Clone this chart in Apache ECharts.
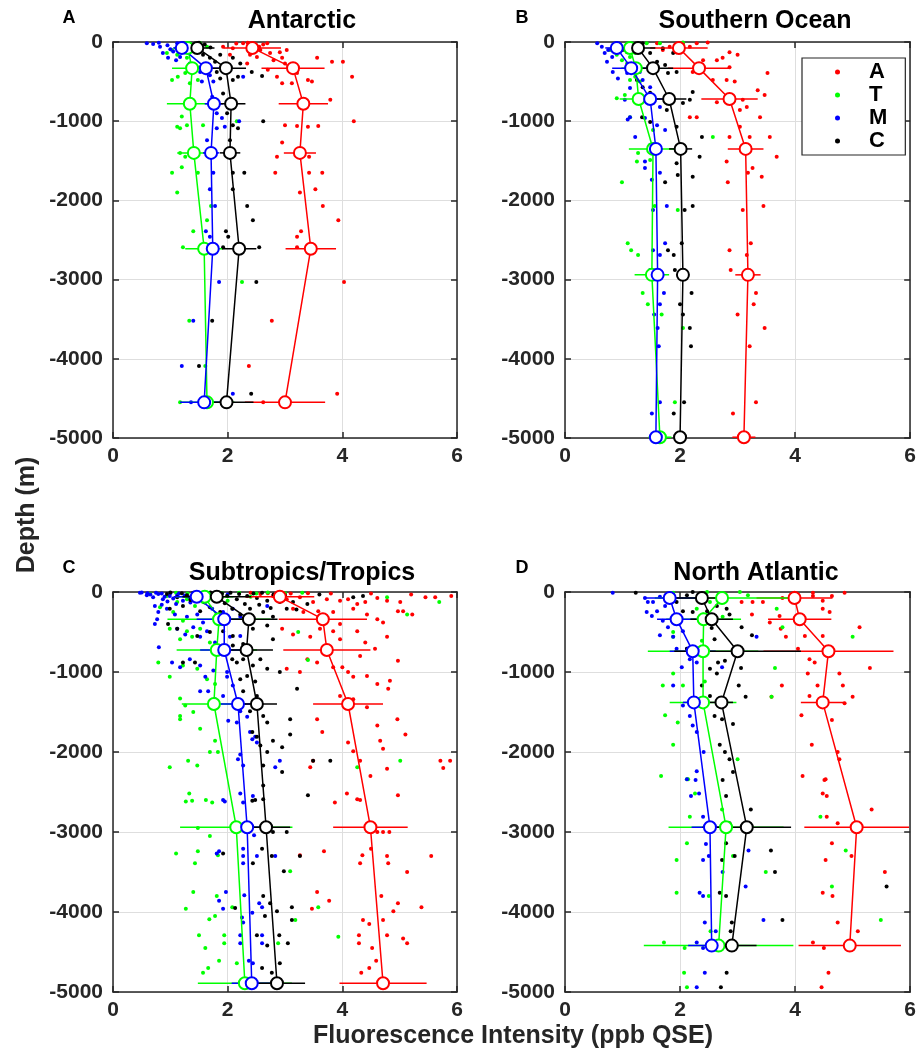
<!DOCTYPE html>
<html><head><meta charset="utf-8">
<script src="https://cdn.jsdelivr.net/npm/echarts@6/dist/echarts.min.js"></script>
<style>html,body{margin:0;padding:0;background:#fff}#c{width:919px;height:1051px}</style>
</head><body><div id="c"></div>
<script>
// ---------- categories / ticks ----------
const cats = ['A', 'T', 'M', 'C'];
const titles = ['Antarctic', 'Southern Ocean', 'Subtropics/Tropics', 'North Atlantic'];
const letters = ['A', 'B', 'C', 'D'];
const xTicks = [0, 2, 4, 6];
const yTicks = [0, -1000, -2000, -3000, -4000, -5000];

// ---------- Panel A: Antarctic ----------
const ant_depth = [-75, -330, -780, -1400, -2610, -4550];
const ant_A_mean = [2.43, 3.14, 3.32, 3.26, 3.45, 3.0];
const ant_A_err = [0.5, 0.55, 0.43, 0.28, 0.44, 0.7];
const ant_T_mean = [1.3, 1.38, 1.34, 1.41, 1.59, 1.64];
const ant_T_err = [0.2, 0.35, 0.4, 0.29, 0.33, 0.48];
const ant_M_mean = [1.2, 1.62, 1.76, 1.71, 1.74, 1.59];
const ant_M_err = [0.15, 0.3, 0.16, 0.14, 0.08, 0.42];
const ant_C_mean = [1.47, 1.97, 2.06, 2.04, 2.2, 1.98];
const ant_C_err = [0.3, 0.35, 0.25, 0.18, 0.3, 0.47];
const ant_A_pts = [[2.09,-80],[2.27,-15],[2.44,-40],[2.57,-100],[2.69,-15],[2.74,-140],[2.8,-230],[2.95,-200],[3.0,-270],[3.03,-100],[3.21,-390],[3.56,-200],[3.82,-250],[4.01,-250],[4.17,-440],[2.86,-440],[3.4,-480],[3.47,-500],[3.12,-520],[2.95,-520],[3.0,-1050],[3.21,-1060],[3.4,-1070],[3.58,-1060],[4.2,-1000],[2.95,-1270],[2.86,-1450],[3.42,-1450],[2.83,-1650],[3.42,-1650],[3.65,-1650],[3.26,-1900],[3.53,-1860],[3.66,-2070],[3.93,-2250],[3.28,-2390],[3.21,-2460],[3.21,-2590],[4.03,-3030],[2.77,-3520],[2.37,-4090],[3.91,-4440],[2.62,-4550],[1.92,-60],[2.04,-160],[2.39,-160],[2.51,-190],[2.34,-270],[2.91,-130],[2.7,-350],[3.79,-730],[2.15,-20],[2.35,-10],[2.55,-60],[2.62,-30]];
const ant_T_pts = [[0.94,-140],[1.03,-100],[1.12,-160],[1.2,-60],[1.29,-200],[1.52,-15],[1.64,-60],[1.03,-480],[1.13,-440],[1.26,-390],[1.34,-520],[1.48,-480],[1.2,-940],[1.17,-1090],[1.12,-1070],[1.29,-1050],[1.57,-1050],[1.17,-1400],[1.26,-1450],[1.2,-1580],[1.03,-1650],[1.48,-1650],[1.12,-1900],[2.16,-1000],[1.64,-2250],[1.4,-2390],[1.22,-2590],[2.25,-3030],[1.33,-3520],[1.17,-4550],[1.61,-4090],[1.71,-2070],[1.35,-30],[1.1,-80],[1.45,-110]];
const ant_M_pts = [[0.59,-15],[0.7,-25],[0.82,-60],[0.87,-140],[0.96,-200],[1.05,-120],[1.17,-190],[1.22,-80],[1.12,-15],[1.34,-270],[1.52,-380],[1.69,-420],[1.75,-500],[1.55,-500],[1.4,-380],[2.27,-440],[1.73,-690],[1.81,-900],[1.9,-960],[1.81,-1090],[1.95,-1070],[2.2,-1000],[1.64,-1240],[1.73,-1450],[1.75,-1650],[1.69,-1860],[1.78,-2070],[1.62,-2390],[1.69,-2460],[1.85,-3030],[1.4,-3520],[1.2,-4090],[2.09,-4440],[1.36,-4550],[0.8,-10],[0.95,-40],[1.0,-90],[1.3,-50],[1.1,-230]];
const ant_C_pts = [[1.22,-15],[1.31,-60],[1.4,-40],[1.52,-100],[1.57,-160],[1.69,-200],[1.78,-250],[1.87,-160],[2.09,-200],[2.22,-270],[2.42,-380],[2.6,-430],[1.81,-380],[1.87,-460],[2.09,-480],[2.18,-440],[1.92,-650],[1.99,-900],[2.09,-1050],[2.18,-1090],[2.62,-1000],[2.04,-1240],[2.09,-1450],[2.09,-1650],[2.29,-1650],[2.09,-1860],[2.34,-2070],[2.44,-2250],[1.97,-2390],[2.01,-2460],[1.92,-2590],[2.55,-2590],[2.5,-3030],[1.73,-3520],[1.5,-4090],[2.41,-4440],[1.5,-10],[1.6,-30],[1.7,-70],[1.35,-90]];

// ---------- Panel B: Southern Ocean ----------
const so_depth = [-75, -330, -720, -1350, -2940, -4990];
const so_A_mean = [1.98, 2.33, 2.86, 3.14, 3.18, 3.11];
const so_A_err = [0.5, 0.54, 0.49, 0.31, 0.22, 0.2];
const so_T_mean = [1.13, 1.23, 1.28, 1.53, 1.51, 1.65];
const so_T_err = [0.2, 0.25, 0.33, 0.42, 0.3, 0.2];
const so_M_mean = [0.9, 1.15, 1.48, 1.58, 1.61, 1.58];
const so_M_err = [0.2, 0.33, 0.3, 0.1, 0.1, 0.08];
const so_C_mean = [1.27, 1.53, 1.81, 2.01, 2.05, 2.0];
const so_C_err = [0.3, 0.35, 0.3, 0.2, 0.1, 0.1];
const so_A_pts = [[1.6,-15],[1.7,-100],[1.82,-60],[1.94,-130],[2.05,-15],[2.17,-60],[2.29,-15],[2.48,-5],[2.4,-230],[2.64,-230],[2.74,-200],[2.86,-130],[3.0,-160],[2.86,-320],[2.22,-380],[2.57,-480],[2.81,-480],[2.95,-500],[3.52,-390],[3.35,-610],[3.47,-670],[2.64,-760],[3.09,-730],[3.04,-860],[3.16,-820],[2.17,-950],[2.29,-950],[3.39,-950],[3.04,-1070],[2.86,-1200],[3.21,-1200],[3.56,-1200],[3.07,-1330],[3.68,-1450],[2.81,-1510],[3.26,-1590],[3.42,-1700],[2.83,-1770],[3.18,-1650],[3.45,-2070],[3.09,-2120],[3.23,-2540],[2.86,-2630],[3.16,-2690],[2.88,-2880],[3.32,-3170],[3.28,-3310],[3.0,-3440],[3.47,-3610],[3.21,-3840],[3.32,-4550],[2.92,-4690]];
const so_T_pts = [[0.78,-100],[0.9,-160],[0.99,-230],[1.08,-270],[1.13,-190],[1.22,-140],[1.3,-60],[1.42,-15],[1.65,-15],[2.05,-5],[1.13,-480],[1.22,-440],[1.3,-500],[0.9,-710],[1.04,-670],[1.13,-950],[1.53,-1110],[2.57,-1200],[1.27,-1400],[1.25,-1510],[0.99,-1770],[1.48,-1490],[1.56,-2070],[1.96,-2120],[1.09,-2540],[1.15,-2630],[1.27,-2690],[1.35,-3170],[1.44,-3310],[1.68,-3440],[2.05,-3610],[1.91,-4550]];
const so_M_pts = [[0.56,-15],[0.64,-60],[0.69,-140],[0.75,-100],[0.82,-190],[0.73,-250],[0.87,-60],[0.95,-40],[0.83,-380],[0.92,-460],[1.08,-390],[1.3,-380],[1.35,-480],[1.48,-570],[1.13,-580],[1.04,-730],[1.22,-710],[1.53,-770],[1.65,-820],[1.13,-950],[1.09,-980],[1.39,-960],[1.6,-1050],[1.74,-1110],[1.22,-1200],[1.48,-1300],[1.39,-1510],[1.39,-1590],[1.51,-1740],[1.65,-1650],[1.77,-2070],[1.53,-2120],[1.74,-2540],[1.53,-2630],[1.65,-2690],[1.48,-2880],[1.72,-3170],[1.65,-3310],[1.55,-3440],[1.61,-3610],[1.63,-3840],[1.65,-4550],[1.51,-4690]];
const so_C_pts = [[0.9,-15],[1.0,-100],[1.13,-60],[1.22,-40],[1.35,-15],[1.08,-130],[1.48,-140],[1.7,-80],[1.88,-140],[1.6,-250],[1.74,-290],[1.79,-390],[1.94,-380],[1.25,-480],[1.35,-570],[1.48,-640],[2.22,-630],[2.17,-730],[2.05,-770],[1.34,-950],[1.48,-1010],[1.77,-860],[1.94,-1070],[2.38,-1200],[2.34,-1450],[1.94,-1530],[1.96,-1680],[1.74,-1770],[2.22,-1700],[2.22,-2070],[2.08,-2120],[2.03,-2540],[1.79,-2630],[1.89,-2690],[1.91,-2880],[2.2,-3170],[2.0,-3310],[2.05,-3440],[2.17,-3610],[2.19,-3840],[2.07,-4550],[1.89,-4690]];

// ---------- Panel C: Subtropics/Tropics ----------
const st_depth = [-60, -340, -725, -1400, -2940, -4890];
const st_A_mean = [2.91, 3.66, 3.73, 4.1, 4.49, 4.71];
const st_A_err = [0.6, 0.77, 0.76, 0.61, 0.65, 0.76];
const st_T_mean = [1.6, 1.85, 1.81, 1.76, 2.15, 2.3];
const st_T_err = [0.5, 0.9, 0.7, 0.56, 0.98, 0.82];
const st_M_mean = [1.46, 1.94, 1.94, 2.18, 2.34, 2.42];
const st_M_err = [0.4, 0.48, 0.42, 0.3, 0.3, 0.35];
const st_C_mean = [1.81, 2.37, 2.33, 2.51, 2.67, 2.86];
const st_C_err = [0.6, 0.5, 0.46, 0.35, 0.42, 0.49];
const st_A_pts = [[2.57,-25],[2.79,-50],[3.03,-90],[3.26,-65],[3.49,-125],[3.73,-90],[3.96,-110],[4.1,-90],[4.26,-150],[4.4,-125],[4.61,-75],[4.78,-110],[5.01,-125],[5.45,-65],[5.62,-65],[4.97,-240],[5.06,-240],[5.22,-280],[3.14,-210],[3.32,-250],[3.58,-240],[3.84,-250],[4.19,-210],[4.43,-280],[4.61,-340],[4.71,-380],[3.96,-400],[2.95,-460],[3.14,-530],[3.44,-560],[3.61,-460],[3.84,-490],[3.96,-590],[4.26,-490],[4.4,-630],[4.78,-560],[4.97,-860],[4.57,-710],[4.31,-800],[3.39,-840],[3.56,-880],[3.84,-940],[4.0,-940],[4.1,-1000],[4.19,-1060],[3.26,-1000],[3.03,-960],[4.43,-1050],[4.83,-1110],[4.8,-1210],[4.61,-1150],[3.96,-1300],[4.19,-1340],[4.43,-1440],[4.96,-1590],[3.56,-1590],[4.61,-1670],[5.1,-1780],[3.65,-1750],[4.1,-1880],[4.19,-1990],[4.66,-1860],[4.71,-1960],[3.49,-2110],[4.31,-2110],[5.71,-2110],[5.88,-2110],[3.44,-2190],[4.78,-2210],[5.76,-2200],[4.49,-2300],[4.08,-2520],[4.26,-2590],[4.31,-2600],[4.97,-2540],[3.87,-2630],[4.61,-3000],[4.71,-3000],[4.82,-3000],[4.5,-3210],[3.68,-3240],[3.26,-3290],[4.35,-3290],[4.78,-3300],[5.55,-3300],[4.31,-3390],[4.8,-3390],[5.13,-3500],[3.56,-3750],[3.77,-3860],[3.47,-3960],[4.68,-3800],[4.97,-3890],[4.89,-3990],[5.38,-3940],[4.36,-4100],[4.47,-4150],[4.71,-4100],[4.29,-4290],[4.78,-4290],[5.06,-4330],[5.13,-4390],[4.29,-4390],[4.52,-4450],[4.59,-4610],[4.47,-4700],[4.33,-4760],[2.4,-10],[2.7,-15],[3.1,-20],[3.4,-15],[3.8,-20],[4.5,-20],[5.2,-30],[5.9,-50]];
const st_T_pts = [[0.65,-25],[0.94,-50],[1.12,-125],[1.29,-90],[1.43,-175],[1.57,-125],[1.75,-25],[0.82,-190],[1.05,-250],[1.22,-360],[0.99,-460],[1.29,-490],[1.52,-460],[1.17,-590],[1.38,-560],[1.69,-630],[1.81,-690],[0.79,-880],[0.99,-1060],[1.22,-920],[1.47,-960],[1.64,-1090],[1.78,-1150],[1.17,-1330],[1.26,-1420],[1.4,-1500],[1.17,-1550],[1.17,-1590],[1.52,-1710],[1.78,-1860],[1.69,-2000],[0.99,-2190],[1.31,-2110],[1.47,-2170],[1.83,-2000],[5.01,-2110],[3.4,-850],[5.13,-280],[5.69,-125],[4.78,-65],[2.95,-75],[4.26,-2190],[3.23,-500],[1.33,-2520],[1.27,-2620],[1.38,-2610],[1.62,-2600],[1.73,-2630],[1.48,-2950],[1.69,-3050],[1.1,-3270],[1.48,-3240],[1.43,-3390],[1.83,-3290],[3.09,-3490],[1.4,-3750],[1.81,-3800],[1.27,-3960],[1.78,-4050],[1.68,-4090],[2.08,-3940],[1.5,-4290],[1.94,-4290],[1.94,-4390],[1.61,-4450],[1.85,-4610],[2.16,-4640],[1.66,-4700],[1.57,-4760],[3.93,-4310],[3.58,-3940],[3.18,-4100],[2.88,-4390],[1.1,-10],[1.3,-20],[1.6,-10],[1.9,-15],[2.2,-10],[2.5,-20],[2.7,-5],[3.0,-15],[3.3,-10],[1.45,-60],[2.0,-110],[2.4,-60]];
const st_M_pts = [[0.47,-10],[0.59,-40],[0.7,-65],[0.79,-25],[0.87,-90],[0.99,-50],[1.12,-40],[1.22,-110],[1.34,-65],[0.73,-175],[0.79,-250],[0.77,-340],[0.73,-400],[0.94,-210],[1.08,-280],[1.29,-310],[1.47,-280],[1.57,-380],[1.73,-210],[1.92,-250],[2.09,-210],[2.22,-310],[2.69,-175],[1.12,-460],[1.26,-530],[1.4,-440],[1.52,-560],[1.64,-490],[1.78,-630],[2.04,-560],[2.22,-550],[0.8,-690],[1.03,-880],[1.17,-940],[1.34,-840],[1.52,-920],[1.61,-1060],[1.75,-980],[1.99,-1000],[1.99,-1060],[2.09,-1170],[1.52,-1240],[1.66,-1240],[1.78,-1340],[1.92,-1300],[2.22,-1490],[2.34,-1560],[2.01,-1610],[2.16,-1630],[2.39,-1750],[2.43,-1840],[2.51,-1880],[2.22,-2030],[2.18,-2090],[2.27,-2170],[2.83,-2190],[2.91,-2110],[2.48,-1810],[1.92,-2600],[1.95,-2620],[2.22,-2520],[2.27,-2630],[2.44,-2550],[2.36,-3000],[2.46,-3040],[1.81,-3270],[1.85,-3240],[2.27,-3210],[2.27,-3300],[2.51,-3300],[2.83,-3300],[2.27,-3390],[1.97,-3750],[1.85,-3860],[1.92,-3960],[2.29,-3790],[2.55,-3890],[2.6,-3940],[2.43,-4010],[2.25,-4070],[2.27,-4130],[2.22,-4290],[2.6,-4290],[2.22,-4390],[2.6,-4390],[2.37,-4610],[2.44,-4640],[0.5,-5],[0.6,-15],[0.65,-30],[0.75,-10],[0.85,-20],[0.9,-60],[1.0,-15],[1.05,-80],[1.15,-20],[1.25,-45],[1.4,-20],[1.55,-40],[1.7,-15],[0.95,-120],[1.1,-150],[0.85,-160],[1.35,-130],[1.6,-100],[1.8,-60],[2.0,-30]];
const st_C_pts = [[0.94,-25],[1.12,-65],[1.29,-40],[1.47,-50],[1.64,-25],[1.81,-75],[1.99,-50],[2.16,-90],[2.34,-50],[2.51,-75],[2.69,-110],[2.91,-125],[3.14,-125],[3.39,-150],[4.19,-65],[4.36,-50],[0.99,-210],[1.22,-175],[1.52,-240],[1.69,-190],[1.87,-250],[2.08,-210],[2.22,-280],[2.39,-210],[2.62,-250],[2.79,-310],[3.03,-210],[0.96,-400],[1.12,-460],[1.47,-550],[1.69,-500],[1.92,-490],[2.09,-550],[2.44,-460],[2.69,-420],[2.79,-590],[2.09,-670],[2.27,-650],[2.08,-840],[2.16,-880],[2.27,-840],[2.44,-920],[2.57,-840],[2.69,-960],[2.91,-1000],[1.22,-880],[1.43,-880],[2.22,-1090],[2.34,-1050],[2.48,-1120],[2.27,-1240],[2.51,-1300],[3.21,-1210],[2.39,-1490],[2.62,-1550],[2.69,-1630],[3.09,-1590],[2.43,-1750],[2.51,-1810],[2.79,-1860],[3.09,-1780],[2.57,-1920],[2.69,-2000],[2.95,-1940],[3.49,-2110],[3.79,-2110],[2.62,-2170],[2.95,-2250],[2.62,-2420],[2.43,-2610],[2.48,-2600],[2.62,-2590],[3.4,-2540],[2.79,-3000],[3.03,-3000],[2.6,-3210],[2.77,-3300],[3.26,-3300],[2.98,-3490],[2.44,-3390],[2.62,-3800],[2.74,-3890],[2.86,-3990],[3.12,-3940],[2.65,-4050],[3.12,-4100],[2.51,-4290],[2.9,-4290],[3.05,-4390],[2.69,-4420],[2.91,-4640],[2.6,-4700],[2.77,-4760],[2.13,-3950],[1.92,-3270],[1.0,-5],[1.2,-15],[1.4,-10],[1.55,-20],[1.7,-5],[1.9,-20],[2.05,-10],[2.2,-25],[2.45,-20],[2.6,-10],[2.8,-30],[3.0,-40],[1.35,-100],[1.6,-130],[1.95,-140],[2.3,-150],[2.55,-160],[2.75,-200],[3.2,-220],[3.6,-30]];

// ---------- Panel D: North Atlantic ----------
const na_depth = [-75, -340, -740, -1380, -2940, -4420];
const na_A_mean = [3.99, 4.08, 4.58, 4.48, 5.07, 4.95];
const na_A_err = [0.66, 0.55, 1.13, 0.38, 0.91, 0.89];
const na_T_mean = [2.73, 2.41, 2.4, 2.4, 2.8, 2.67];
const na_T_err = [1.17, 0.65, 0.96, 0.58, 1.0, 1.3];
const na_M_mean = [1.82, 1.94, 2.22, 2.24, 2.52, 2.55];
const na_M_err = [0.45, 0.34, 0.4, 0.19, 0.32, 0.41];
const na_C_mean = [2.38, 2.55, 3.0, 2.72, 3.16, 2.9];
const na_C_err = [0.45, 0.37, 1.1, 0.2, 0.77, 0.43];
const na_A_pts = [[3.99,-10],[4.31,-10],[4.86,-10],[3.07,-125],[3.26,-125],[3.44,-125],[3.78,-75],[4.31,-50],[4.48,-110],[4.64,-50],[4.48,-210],[4.6,-250],[3.25,-280],[3.73,-300],[3.56,-380],[3.75,-460],[3.84,-560],[5.12,-440],[4.17,-550],[4.48,-550],[4.05,-710],[4.25,-840],[4.34,-880],[5.3,-950],[4.22,-1020],[4.77,-1020],[3.77,-1170],[4.39,-1170],[4.83,-1170],[4.25,-1300],[3.59,-1310],[5.0,-1310],[4.86,-1390],[4.11,-1540],[4.64,-1600],[4.29,-1910],[4.74,-2000],[4.77,-2090],[4.13,-2300],[4.53,-2340],[4.51,-2350],[4.48,-2520],[4.55,-2550],[5.33,-2720],[4.55,-2810],[4.74,-2890],[4.64,-3140],[4.53,-3350],[4.98,-3300],[5.56,-3500],[4.48,-3760],[4.65,-3800],[4.74,-4130],[5.09,-4240],[4.31,-4380],[4.5,-4450],[4.58,-4760],[4.46,-4940]];
const na_T_pts = [[1.88,-10],[2.47,0],[2.74,-40],[3.04,0],[3.18,-40],[2.52,-125],[2.29,-210],[2.4,-280],[3.68,-210],[2.74,-310],[3.78,-440],[1.88,-500],[1.88,-560],[5.0,-560],[2.29,-710],[2.38,-610],[3.65,-950],[1.88,-1020],[1.7,-1170],[2.05,-1170],[2.43,-1120],[3.59,-1310],[1.74,-1540],[1.96,-1630],[1.88,-1910],[3.0,-2090],[1.67,-2300],[2.12,-2340],[2.14,-2340],[2.26,-2520],[2.17,-2810],[2.73,-2720],[2.12,-3140],[1.94,-3350],[2.92,-3300],[3.49,-3500],[1.94,-3760],[2.5,-3800],[4.64,-3680],[4.88,-3230],[5.49,-4100],[2.53,-4240],[1.72,-4380],[2.08,-4450],[2.07,-4760],[2.12,-4940],[4.44,-2810]];
const na_M_pts = [[0.83,-10],[1.39,-75],[1.44,-125],[1.53,-125],[1.65,-60],[1.74,-175],[1.42,-250],[1.6,-240],[1.51,-300],[1.7,-360],[1.79,-440],[1.65,-540],[1.88,-560],[2.05,-490],[3.33,-560],[1.94,-710],[2.12,-710],[2.17,-840],[2.03,-940],[2.29,-880],[2.73,-940],[1.88,-1170],[2.05,-1420],[2.17,-1550],[2.22,-1670],[2.29,-1750],[2.41,-2000],[2.29,-2240],[2.12,-2340],[2.27,-2350],[2.19,-2550],[2.33,-2520],[2.4,-2810],[3.19,-3230],[2.45,-3150],[2.4,-3350],[2.5,-3300],[2.74,-3500],[3.14,-3680],[2.34,-3760],[2.4,-3800],[2.43,-4130],[3.45,-4100],[2.62,-4240],[2.29,-4380],[2.4,-4450],[2.43,-4760],[2.29,-4940]];
const na_C_pts = [[1.23,-10],[2.12,-40],[2.22,0],[2.69,-40],[1.94,-125],[2.05,-240],[2.22,-250],[2.47,-240],[2.64,-175],[2.81,-210],[2.86,-280],[3.07,-440],[2.55,-450],[3.25,-540],[2.6,-590],[2.12,-710],[2.66,-880],[2.78,-860],[2.52,-960],[2.64,-1020],[3.06,-950],[2.38,-1170],[3.02,-1170],[2.52,-1300],[3.14,-1310],[2.6,-1550],[2.73,-1590],[2.92,-1650],[2.69,-1910],[2.86,-2090],[2.78,-2000],[2.92,-2250],[2.74,-2350],[2.8,-2550],[3.23,-2720],[2.86,-2890],[2.8,-3140],[3.58,-3230],[2.73,-3350],[2.95,-3300],[3.65,-3500],[5.59,-3680],[2.69,-3760],[2.8,-3800],[3.78,-4100],[2.9,-4130],[2.88,-4240],[2.81,-4760],[2.71,-4940]];

// ---------- assemble ----------
const colors = ['#ff0000', '#00ff00', '#0000ff', '#000000'];
const panels = [
  {depth: ant_depth, mean: [ant_A_mean, ant_T_mean, ant_M_mean, ant_C_mean], err: [ant_A_err, ant_T_err, ant_M_err, ant_C_err], pts: [ant_A_pts, ant_T_pts, ant_M_pts, ant_C_pts]},
  {depth: so_depth, mean: [so_A_mean, so_T_mean, so_M_mean, so_C_mean], err: [so_A_err, so_T_err, so_M_err, so_C_err], pts: [so_A_pts, so_T_pts, so_M_pts, so_C_pts]},
  {depth: st_depth, mean: [st_A_mean, st_T_mean, st_M_mean, st_C_mean], err: [st_A_err, st_T_err, st_M_err, st_C_err], pts: [st_A_pts, st_T_pts, st_M_pts, st_C_pts]},
  {depth: na_depth, mean: [na_A_mean, na_T_mean, na_M_mean, na_C_mean], err: [na_A_err, na_T_err, na_M_err, na_C_err], pts: [na_A_pts, na_T_pts, na_M_pts, na_C_pts]}
];

const FONT = '"Liberation Sans", Arial, Helvetica, sans-serif';
const AX = '#262626';
const grids = [
  {left: 113, top: 42, width: 344, height: 396},
  {left: 565, top: 42, width: 346, height: 396},
  {left: 113, top: 592, width: 344, height: 400},
  {left: 565, top: 592, width: 346, height: 400}
];
const titlePos = [[302, 21], [755, 21], [302, 573], [756, 573]];
const letterPos = [[69, 18], [522, 18], [69, 568], [522, 568]];

const xAxes = [], yAxes = [], series = [], graphics = [];
grids.forEach((g, i) => {
  const common = {min: 0, max: 6, interval: 2, gridIndex: i};
  xAxes.push(Object.assign({type: 'value', position: 'bottom',
    axisLine: {show: true, onZero: false, lineStyle: {color: AX, width: 1.5}},
    axisTick: {show: true, inside: true, length: 6, lineStyle: {color: AX, width: 1.5}},
    axisLabel: {show: true, margin: 8, fontFamily: FONT, fontWeight: 'bold', fontSize: 21, color: AX,
      formatter: v => String(v)},
    splitLine: {show: true, lineStyle: {color: '#dedede', width: 1}}}, common));
  xAxes.push(Object.assign({type: 'value', position: 'top',
    axisLine: {show: true, onZero: false, lineStyle: {color: AX, width: 1.5}},
    axisTick: {show: true, inside: true, length: 6, lineStyle: {color: AX, width: 1.5}},
    axisLabel: {show: false}, splitLine: {show: false}}, common));
  const ycommon = {min: -5000, max: 0, interval: 1000, gridIndex: i};
  yAxes.push(Object.assign({type: 'value', position: 'left',
    axisLine: {show: true, onZero: false, lineStyle: {color: AX, width: 1.5}},
    axisTick: {show: true, inside: true, length: 6, lineStyle: {color: AX, width: 1.5}},
    axisLabel: {show: true, margin: 10, fontFamily: FONT, fontWeight: 'bold', fontSize: 21, color: AX,
      formatter: v => String(v)},
    splitLine: {show: true, lineStyle: {color: '#dedede', width: 1}}}, ycommon));
  yAxes.push(Object.assign({type: 'value', position: 'right',
    axisLine: {show: true, onZero: false, lineStyle: {color: AX, width: 1.5}},
    axisTick: {show: true, inside: true, length: 6, lineStyle: {color: AX, width: 1.5}},
    axisLabel: {show: false}, splitLine: {show: false}}, ycommon));

  const p = panels[i];
  const xi = i * 2, yi = i * 2;
  for (let k = 0; k < 4; k++) {
    series.push({type: 'scatter', name: cats[k], xAxisIndex: xi, yAxisIndex: yi, z: 2,
      symbol: 'circle', symbolSize: 4, itemStyle: {color: colors[k], opacity: 1},
      data: p.pts[k], silent: true, animation: false});
  }
  for (let k = 0; k < 4; k++) {
    const ebData = p.depth.map((d, j) => [p.mean[k][j], d, p.err[k][j]]);
    series.push({type: 'custom', name: cats[k] + ' err', xAxisIndex: xi, yAxisIndex: yi, z: 3,
      silent: true, animation: false, clip: true,
      encode: {x: 0, y: 1},
      renderItem: (params, api) => {
        const m = api.value(0), d = api.value(1), e = api.value(2);
        const a = api.coord([m - e, d]), b = api.coord([m + e, d]);
        return {type: 'line', shape: {x1: a[0], y1: a[1], x2: b[0], y2: b[1]},
          style: {stroke: colors[k], lineWidth: 1.5}};
      },
      data: ebData});
    series.push({type: 'line', name: cats[k] + ' mean', xAxisIndex: xi, yAxisIndex: yi, z: 4,
      silent: true, animation: false,
      symbol: 'emptyCircle', symbolSize: 12, showAllSymbol: true,
      lineStyle: {color: colors[k], width: 1.5},
      itemStyle: {color: colors[k], borderColor: colors[k], borderWidth: 1.5},
      data: p.depth.map((d, j) => [p.mean[k][j], d])});
  }

  graphics.push({type: 'text', x: titlePos[i][0], y: titlePos[i][1],
    style: {text: titles[i], font: 'bold 25px ' + FONT, fill: '#000', textAlign: 'center', textVerticalAlign: 'middle'}});
  graphics.push({type: 'text', x: letterPos[i][0], y: letterPos[i][1],
    style: {text: letters[i], font: 'bold 18px ' + FONT, fill: '#000', textAlign: 'center', textVerticalAlign: 'middle'}});
});

graphics.push({type: 'text', x: 27, y: 515, rotation: Math.PI / 2,
  style: {text: 'Depth (m)', font: 'bold 25px ' + FONT, fill: AX, textAlign: 'center', textVerticalAlign: 'middle'}});
graphics.push({type: 'text', x: 513, y: 1036,
  style: {text: 'Fluorescence Intensity (ppb QSE)', font: 'bold 25px ' + FONT, fill: AX, textAlign: 'center', textVerticalAlign: 'middle'}});

const option = {
  backgroundColor: '#ffffff',
  animation: false,
  grid: grids.map(g => Object.assign({containLabel: false}, g)),
  xAxis: xAxes,
  yAxis: yAxes,
  legend: {
    data: cats.map(c => ({name: c, icon: 'circle'})),
    orient: 'vertical', left: 802, top: 58,
    width: 91,
    itemWidth: 5, itemHeight: 5, itemGap: 1,
    padding: [3, 18, 3, 33],
    borderColor: AX, borderWidth: 1.2, backgroundColor: '#fff',
    selectedMode: false,
    textStyle: {fontFamily: FONT, fontWeight: 'bold', fontSize: 22, color: '#000', lineHeight: 21.5, padding: [0, 0, 0, 24]}
  },
  series: series,
  graphic: graphics
};

const chart = echarts.init(document.getElementById('c'), null, {renderer: 'canvas'});
chart.setOption(option);
</script></body></html>
